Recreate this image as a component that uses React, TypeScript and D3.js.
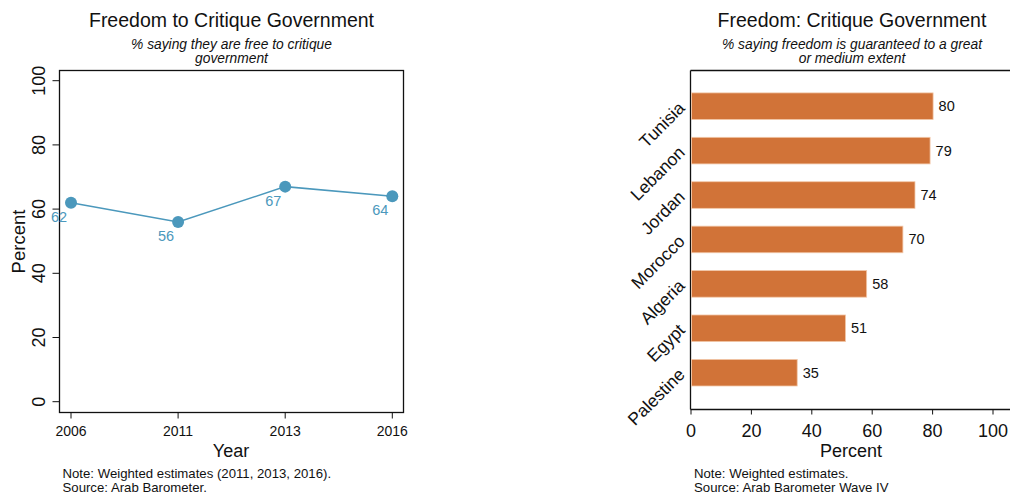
import React from "react";
import * as d3 from "d3";

const years = ["2006", "2011", "2013", "2016"];
const yearValues = [62, 56, 67, 64];
const yTicks = [0, 20, 40, 60, 80, 100];

const countries = ["Tunisia", "Lebanon", "Jordan", "Morocco", "Algeria", "Egypt", "Palestine"];
const countryValues = [80, 79, 74, 70, 58, 51, 35];
const xTicks = [0, 20, 40, 60, 80, 100];

const FONT = "'Liberation Sans', Arial, Helvetica, sans-serif";
const LINE_COLOR = "#4b98bc";
const BAR_COLOR = "#d17338";

export default function App() {
  // Left chart
  const L = { left: 59.5, right: 403.5, top: 70.5, bottom: 412.5 };
  const xL = d3.scalePoint<string>().domain(years).range([71, 392.3]);
  const yL = d3.scaleLinear().domain([0, 100]).range([401.7, 80.7]);
  const line = d3
    .line<number>()
    .x((_, i) => xL(years[i]) as number)
    .y((d) => yL(d));

  // Right chart
  const R = { left: 690.5, right: 1012, top: 70.5, bottom: 409.5 };
  const xR = d3.scaleLinear().domain([0, 100]).range([691, 993]);
  const yR = d3.scalePoint<string>().domain(countries).range([106.2, 372.7]);
  const barH = 26.6;

  return (
    <svg width={1010} height={494} style={{ position: "absolute", left: 0, top: 0, background: "#fff" }} fontFamily={FONT}>
      <rect x={0} y={0} width={1010} height={494} fill="#fff" />
      {/* Left chart */}
      <text x={231.5} y={27} textAnchor="middle" fontSize={19.5} fill="#111">Freedom to Critique Government</text>
      <text x={231.5} y={49} textAnchor="middle" fontSize={13.8} fontStyle="italic" fill="#111">% saying they are free to critique</text>
      <text x={231.5} y={63} textAnchor="middle" fontSize={13.8} fontStyle="italic" fill="#111">government</text>
      <rect x={L.left} y={L.top} width={L.right - L.left} height={L.bottom - L.top} fill="none" stroke="#111" strokeWidth={1.3} />
      {yTicks.map((t) => (
        <g key={t}>
          <line x1={L.left} x2={L.left - 7} y1={yL(t)} y2={yL(t)} stroke="#111" strokeWidth={1} />
          <text transform={`translate(45,${yL(t)}) rotate(-90)`} textAnchor="middle" fontSize={18} fill="#111">{t}</text>
        </g>
      ))}
      {years.map((y) => (
        <g key={y}>
          <line x1={xL(y)} x2={xL(y)} y1={L.bottom} y2={L.bottom + 6} stroke="#111" strokeWidth={1} />
          <text x={xL(y)} y={436} textAnchor="middle" fontSize={14} fill="#111">{y}</text>
        </g>
      ))}
      <text x={231} y={457} textAnchor="middle" fontSize={18} fill="#111">Year</text>
      <text transform={`translate(25,241.5) rotate(-90)`} textAnchor="middle" fontSize={18.5} fill="#111">Percent</text>
      <path d={line(yearValues) || ""} fill="none" stroke={LINE_COLOR} strokeWidth={1.5} />
      {yearValues.map((v, i) => (
        <g key={i}>
          <circle cx={xL(years[i])} cy={yL(v)} r={6} fill={LINE_COLOR} />
          <text x={(xL(years[i]) as number) - 12} y={yL(v) + 19} textAnchor="middle" fontSize={14.5} fill={LINE_COLOR}>{v}</text>
        </g>
      ))}
      <text x={62.5} y={478} fontSize={13.2} fill="#111">Note: Weighted estimates (2011, 2013, 2016).</text>
      <text x={62.5} y={492} fontSize={13.2} fill="#111">Source: Arab Barometer.</text>

      {/* Right chart */}
      <text x={852} y={27} textAnchor="middle" fontSize={19.5} fill="#111">Freedom: Critique Government</text>
      <text x={852} y={49} textAnchor="middle" fontSize={13.8} fontStyle="italic" fill="#111">% saying freedom is guaranteed to a great</text>
      <text x={852} y={63} textAnchor="middle" fontSize={13.8} fontStyle="italic" fill="#111">or medium extent</text>
      <line x1={R.left} x2={R.right} y1={R.top} y2={R.top} stroke="#111" strokeWidth={1.3} />
      <line x1={R.left} x2={R.right} y1={R.bottom} y2={R.bottom} stroke="#111" strokeWidth={1.3} />
      <line x1={R.left} x2={R.left} y1={R.top} y2={R.bottom} stroke="#111" strokeWidth={1.3} />
      {countries.map((c, i) => {
        const cy = yR(c) as number;
        return (
          <g key={c}>
            <rect x={xR(0) + 0.5} y={cy - barH / 2} width={xR(countryValues[i]) - xR(0)} height={barH} fill={BAR_COLOR} stroke="#f2c7a8" strokeWidth={0.8} />
            <text x={xR(countryValues[i]) + 6} y={cy + 5} fontSize={14.5} fill="#111">{countryValues[i]}</text>
            <text transform={`translate(686,${cy + 3}) rotate(-45)`} textAnchor="end" fontSize={17.5} fill="#111">{c}</text>
          </g>
        );
      })}
      {xTicks.map((t) => (
        <g key={t}>
          <line x1={xR(t)} x2={xR(t)} y1={R.bottom} y2={R.bottom + 5} stroke="#111" strokeWidth={1} />
          <text x={xR(t)} y={437} textAnchor="middle" fontSize={18} fill="#111">{t}</text>
        </g>
      ))}
      <text x={851} y={457} textAnchor="middle" fontSize={18} fill="#111">Percent</text>
      <text x={694} y={478} fontSize={13.2} fill="#111">Note: Weighted estimates.</text>
      <text x={694} y={492} fontSize={13.2} fill="#111">Source: Arab Barometer Wave IV</text>
    </svg>
  );
}
